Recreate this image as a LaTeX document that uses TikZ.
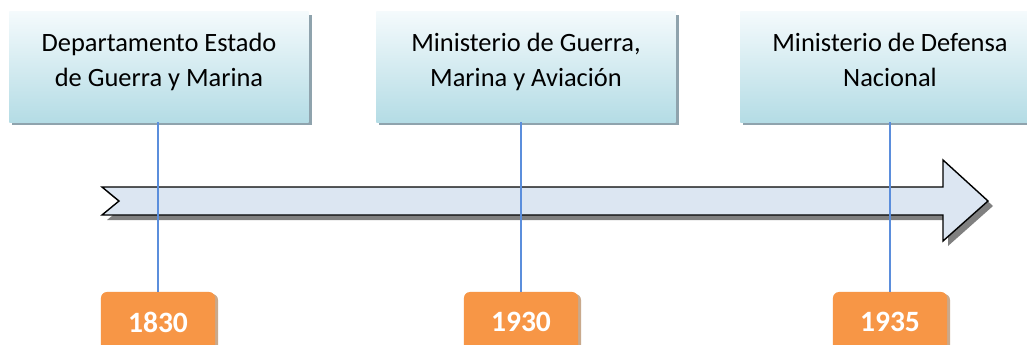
\documentclass[tikz,border=0pt]{standalone}
\usepackage{fontspec}
\setmainfont{Carlito}
\usetikzlibrary{shadows}

\definecolor{boxtop}{HTML}{F4FAFC}
\definecolor{boxbot}{HTML}{B4DCE5}
\definecolor{boxshade}{HTML}{8FA3AD}
\definecolor{arrowfill}{HTML}{DCE6F2}
\definecolor{arrowshade}{HTML}{808080}
\definecolor{yearfill}{HTML}{F79646}
\definecolor{yearshade}{HTML}{C9A98C}
\definecolor{stemblue}{HTML}{5B8EDC}

\tikzset{
  eventbox/.style={rectangle,minimum width=7.475cm,minimum height=2.75cm,inner sep=0pt,
    top color=boxtop,bottom color=boxbot,
    general shadow={fill=boxshade,shadow xshift=0.075cm,shadow yshift=-0.075cm}},
  eventtext/.style={anchor=north,yshift=-0.42cm,align=center,font=\fontsize{18.8}{24.8}\selectfont,text=black},
  yearbox/.style={rectangle,rounded corners=0.15cm,minimum width=2.85cm,minimum height=1.5cm,inner sep=0pt,
    fill=yearfill,text=white,font=\fontsize{21}{24}\selectfont\bfseries,
    general shadow={fill=yearshade,shadow xshift=0.075cm,shadow yshift=-0.05cm}},
  stem/.style={stemblue,line width=1.9pt}
}

\begin{document}
\begin{tikzpicture}[x=0.025cm,y=-0.025cm]
\clip (0,0) rectangle (1027,344);
\fill[white] (0,0) rectangle (1027,344);

% arrow with shadow
\fill[arrowshade] (107,192) -- (948,192) -- (948,165) -- (993,206) -- (948,246) -- (948,220) -- (107,220) -- (124,206) -- cycle;
\draw[fill=arrowfill,line width=1pt,line join=miter] (102,187) -- (943,187) -- (943,160) -- (988,201) -- (943,241) -- (943,215) -- (102,215) -- (119,201) -- cycle;

% boxes
\node[eventbox,label={[eventtext]north:Departamento Estado\\de Guerra y Marina}] (b1) at (159,67) {};
\node[eventbox,label={[eventtext]north:Ministerio de Guerra,\\Marina y Aviación}] (b2) at (526,67) {};
\node[eventbox,label={[eventtext]north:Ministerio de Defensa\\Nacional}] (b3) at (890,67) {};

\node[yearbox] (y1) at (158,322) {1830};
\node[yearbox] (y2) at (521,322) {1930};
\node[yearbox] (y3) at (890,322) {1935};

% stems
\draw[stem] (y1.north) -- (y1.north |- b1.south);
\draw[stem] (y2.north) -- (y2.north |- b2.south);
\draw[stem] (y3.north) -- (y3.north |- b3.south);

\end{tikzpicture}
\end{document}
